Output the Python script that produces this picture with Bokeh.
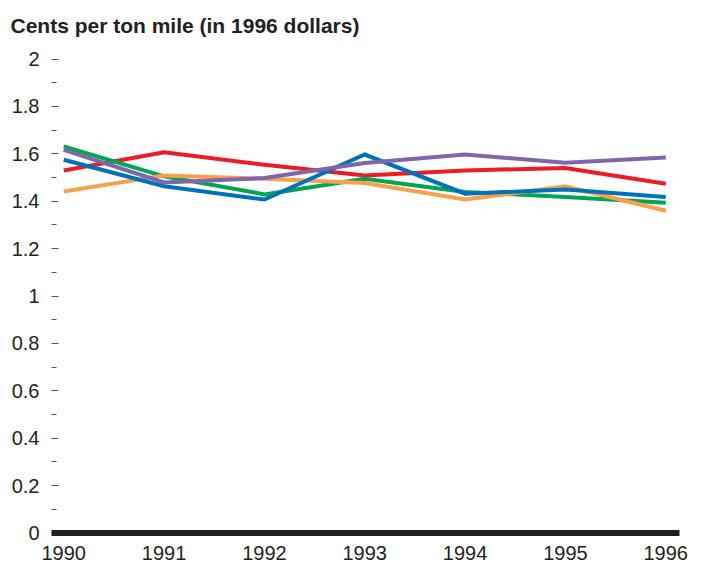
from bokeh.plotting import figure
from bokeh.models import Span, FixedTicker, Range1d
from bokeh.embed import file_html
from bokeh.resources import INLINE

years = [1990, 1991, 1992, 1993, 1994, 1995, 1996]
red_vals = [1.53, 1.607, 1.554, 1.509, 1.530, 1.540, 1.474]
green_vals = [1.631, 1.505, 1.429, 1.495, 1.439, 1.418, 1.394]
orange_vals = [1.441, 1.509, 1.495, 1.477, 1.407, 1.463, 1.360]
blue_vals = [1.575, 1.463, 1.407, 1.597, 1.432, 1.449, 1.418]
purple_vals = [1.617, 1.479, 1.498, 1.561, 1.597, 1.562, 1.584]

y_ticks = [0, 0.2, 0.4, 0.6, 0.8, 1, 1.2, 1.4, 1.6, 1.8, 2]
y_tick_labels = ["0", "0.2", "0.4", "0.6", "0.8", "1", "1.2", "1.4", "1.6", "1.8", "2"]
y_minor = [0.1, 0.3, 0.5, 0.7, 0.9, 1.1, 1.3, 1.5, 1.7, 1.9]

title_text = "Cents per ton mile (in 1996 dollars)"
FONT = "Liberation Sans"
TXT = "#231F20"

p = figure(width=697, height=563,
           min_border_left=51, min_border_right=18, min_border_top=50, min_border_bottom=23,
           x_range=Range1d(1989.878, 1996.137), y_range=Range1d(-0.0316, 2.036),
           output_backend="svg", toolbar_location=None)
p.outline_line_color = None
p.xgrid.visible = False
p.ygrid.visible = False

p.title.text = title_text
p.title.text_font = FONT
p.title.text_font_size = "21px"
p.title.text_font_style = "bold"
p.title.text_color = TXT
p.title.align = "left"
p.title.vertical_align = "top"
p.title.offset = -41
p.title.standoff = 24

series = [(red_vals, "#ED1C24"), (green_vals, "#00A651"), (orange_vals, "#F9A04A"),
          (blue_vals, "#0072BC"), (purple_vals, "#7F65AB")]
for vals, col in series:
    p.line(years, vals, line_color=col, line_width=4, line_join="miter")

p.add_layout(Span(location=0, dimension="width", line_color=TXT, line_width=6, line_cap="round"))

ya = p.yaxis[0]
ya.ticker = FixedTicker(ticks=y_ticks, minor_ticks=y_minor)
ya.major_label_overrides = {t: l for t, l in zip(y_ticks, y_tick_labels)}
ya.axis_line_color = None
ya.major_tick_in = 7
ya.major_tick_out = 0
ya.minor_tick_in = 5
ya.minor_tick_out = 0
ya.major_tick_line_color = "#555555"
ya.minor_tick_line_color = "#555555"
ya.major_label_standoff = 12
ya.major_label_text_font = FONT
ya.major_label_text_font_size = "20px"
ya.major_label_text_color = TXT

xa = p.xaxis[0]
xa.ticker = FixedTicker(ticks=years)
xa.axis_line_color = None
xa.major_tick_line_color = None
xa.minor_tick_line_color = None
xa.major_tick_in = 0
xa.major_tick_out = 0
xa.major_label_standoff = 5
xa.major_label_text_font = FONT
xa.major_label_text_font_size = "20px"
xa.major_label_text_color = TXT

open("out.html", "w").write(file_html(p, INLINE))
